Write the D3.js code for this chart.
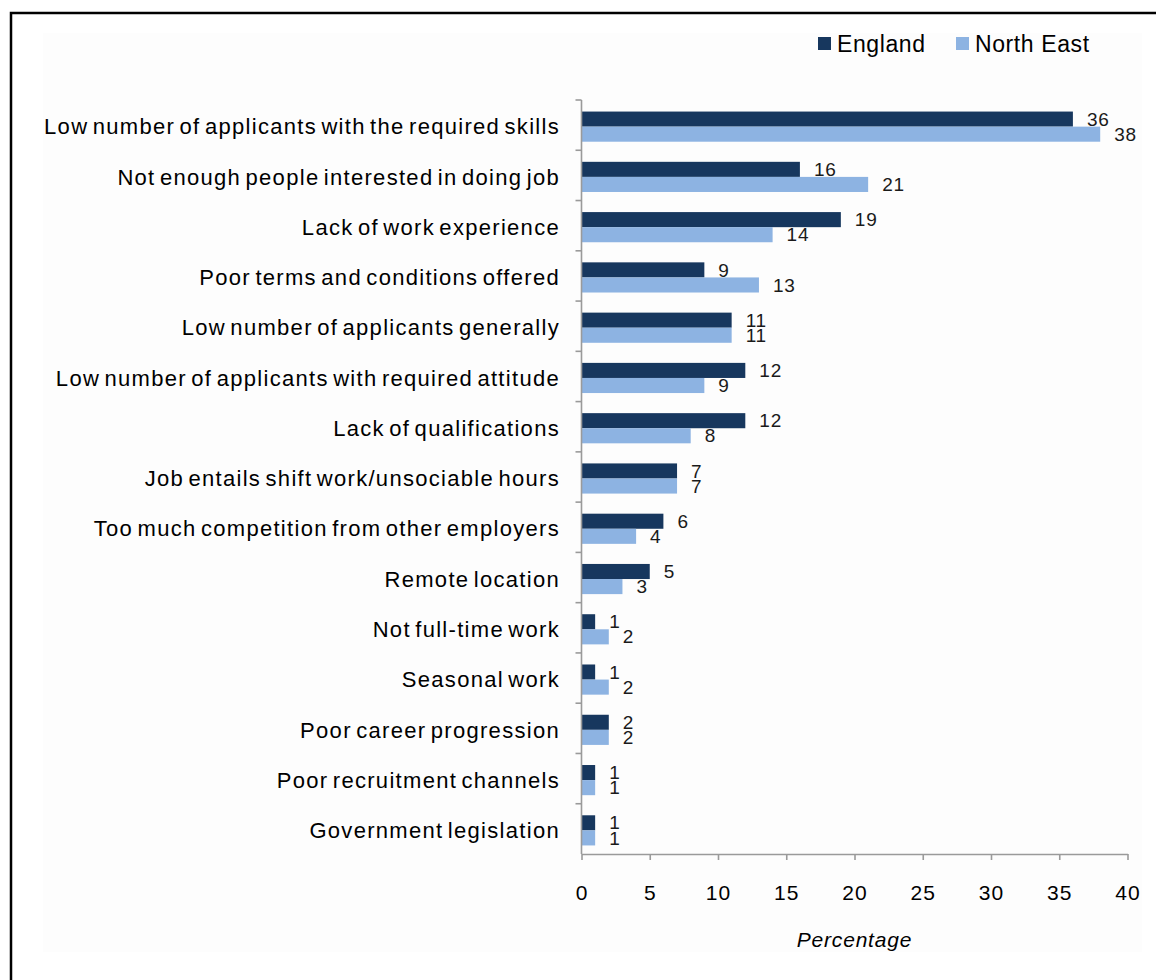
<!DOCTYPE html>
<html>
<head>
<meta charset="utf-8">
<script src="https://cdn.jsdelivr.net/npm/d3@7"></script>
<style>
  html, body { margin: 0; padding: 0; background: #ffffff; }
  svg { display: block; font-family: "Liberation Sans", Arial, sans-serif; }
</style>
</head>
<body>
<svg id="chart" width="1156" height="980"></svg>
<script>
// Reasons for hard-to-fill vacancies (% of establishments)
const categories = [
  "Low number of applicants with the required skills",
  "Not enough people interested in doing job",
  "Lack of work experience",
  "Poor terms and conditions offered",
  "Low number of applicants generally",
  "Low number of applicants with required attitude",
  "Lack of qualifications",
  "Job entails shift work/unsociable hours",
  "Too much competition from other employers",
  "Remote location",
  "Not full-time work",
  "Seasonal work",
  "Poor career progression",
  "Poor recruitment channels",
  "Government legislation"
];
const england   = [36, 16, 19, 9, 11, 12, 12, 7, 6, 5, 1, 1, 2, 1, 1];
const northEast = [38, 21, 14, 13, 11, 9, 8, 7, 4, 3, 2, 2, 2, 1, 1];
const seriesNames = ["England", "North East"];
const seriesColors = ["#17375E", "#8DB3E2"];
const xTicks = [0, 5, 10, 15, 20, 25, 30, 35, 40];
const xTitle = "Percentage";

const svg = d3.select("#chart");

// outer frame and faint chart-area fill
svg.append("rect")
  .attr("x", 11).attr("y", 13).attr("width", 1170).attr("height", 1000)
  .attr("fill", "#ffffff").attr("stroke", "#000000").attr("stroke-width", 2.5);
svg.append("rect")
  .attr("x", 43).attr("y", 33).attr("width", 1099).attr("height", 919)
  .attr("fill", "#fdfdfd");

const plot = { left: 581.5, right: 1127.5, top: 100, bottom: 854 };

const x = d3.scaleLinear().domain([0, 40]).range([plot.left, plot.right]);
const y = d3.scaleBand().domain(categories)
  .range([plot.top, plot.bottom]).paddingInner(0.4).paddingOuter(0.2);
const ys = d3.scaleBand().domain(seriesNames).range([0, y.bandwidth()]);
const shift = 1.5;

const rows = categories.map((c, i) => ({ cat: c, values: [england[i], northEast[i]] }));

// bars
const g = svg.append("g");
rows.forEach(r => {
  r.values.forEach((v, k) => {
    const s = seriesNames[k];
    g.append("rect")
      .attr("x", x(0))
      .attr("y", y(r.cat) + ys(s) + shift)
      .attr("width", x(v) - x(0))
      .attr("height", ys.bandwidth())
      .attr("fill", seriesColors[k]);
  });
});

// y axis line and band ticks
const axisColor = "#9a9a9a";
svg.append("line")
  .attr("x1", plot.left).attr("x2", plot.left)
  .attr("y1", plot.top).attr("y2", plot.bottom)
  .attr("stroke", axisColor).attr("stroke-width", 1.6);
d3.range(categories.length).forEach(i => {
  const yy = plot.top + i * y.step();
  svg.append("line")
    .attr("x1", plot.left - 6).attr("x2", plot.left)
    .attr("y1", yy).attr("y2", yy)
    .attr("stroke", axisColor).attr("stroke-width", 1.6);
});

// category labels
svg.append("g").selectAll("text").data(categories).join("text")
  .attr("x", 560)
  .attr("y", d => y(d) + y.bandwidth() / 2 + shift)
  .attr("dy", "0.35em")
  .attr("text-anchor", "end")
  .attr("font-size", 22)
  .attr("letter-spacing", 1.3)
  .attr("word-spacing", -3)
  .attr("fill", "#000")
  .text(d => d);

// x axis
const xAxis = svg.append("g")
  .attr("transform", `translate(0,${plot.bottom})`)
  .call(d3.axisBottom(x).tickValues(xTicks).tickSize(6).tickPadding(25).tickSizeOuter(0));
xAxis.select(".domain").attr("stroke", axisColor).attr("stroke-width", 1.6);
xAxis.selectAll(".tick line").attr("stroke", axisColor).attr("stroke-width", 1.6);
xAxis.selectAll(".tick text")
  .attr("font-size", 21).attr("letter-spacing", 1)
  .attr("font-family", "Liberation Sans, Arial, sans-serif")
  .attr("fill", "#000");

// value labels
rows.forEach(r => {
  r.values.forEach((v, k) => {
    const s = seriesNames[k];
    svg.append("text")
      .attr("x", x(v) + 14)
      .attr("y", y(r.cat) + ys(s) + shift + ys.bandwidth() / 2)
      .attr("dy", "0.35em")
      .attr("font-size", 19)
      .attr("letter-spacing", 0.8)
      .attr("fill", "#1a1a1a")
      .text(v);
  });
});

// axis title
svg.append("text")
  .attr("x", (plot.left + plot.right) / 2)
  .attr("y", 947)
  .attr("text-anchor", "middle")
  .attr("font-size", 21)
  .attr("font-style", "italic")
  .attr("letter-spacing", 0.8)
  .attr("fill", "#000")
  .text(xTitle);

// legend
const legendX = [818, 956];
seriesNames.forEach((s, k) => {
  svg.append("rect")
    .attr("x", legendX[k]).attr("y", 37)
    .attr("width", 13).attr("height", 13)
    .attr("fill", seriesColors[k]);
  svg.append("text")
    .attr("x", legendX[k] + 19).attr("y", 52)
    .attr("font-size", 23)
    .attr("letter-spacing", 0.6)
    .attr("fill", "#000")
    .text(s);
});
</script>
</body>
</html>
